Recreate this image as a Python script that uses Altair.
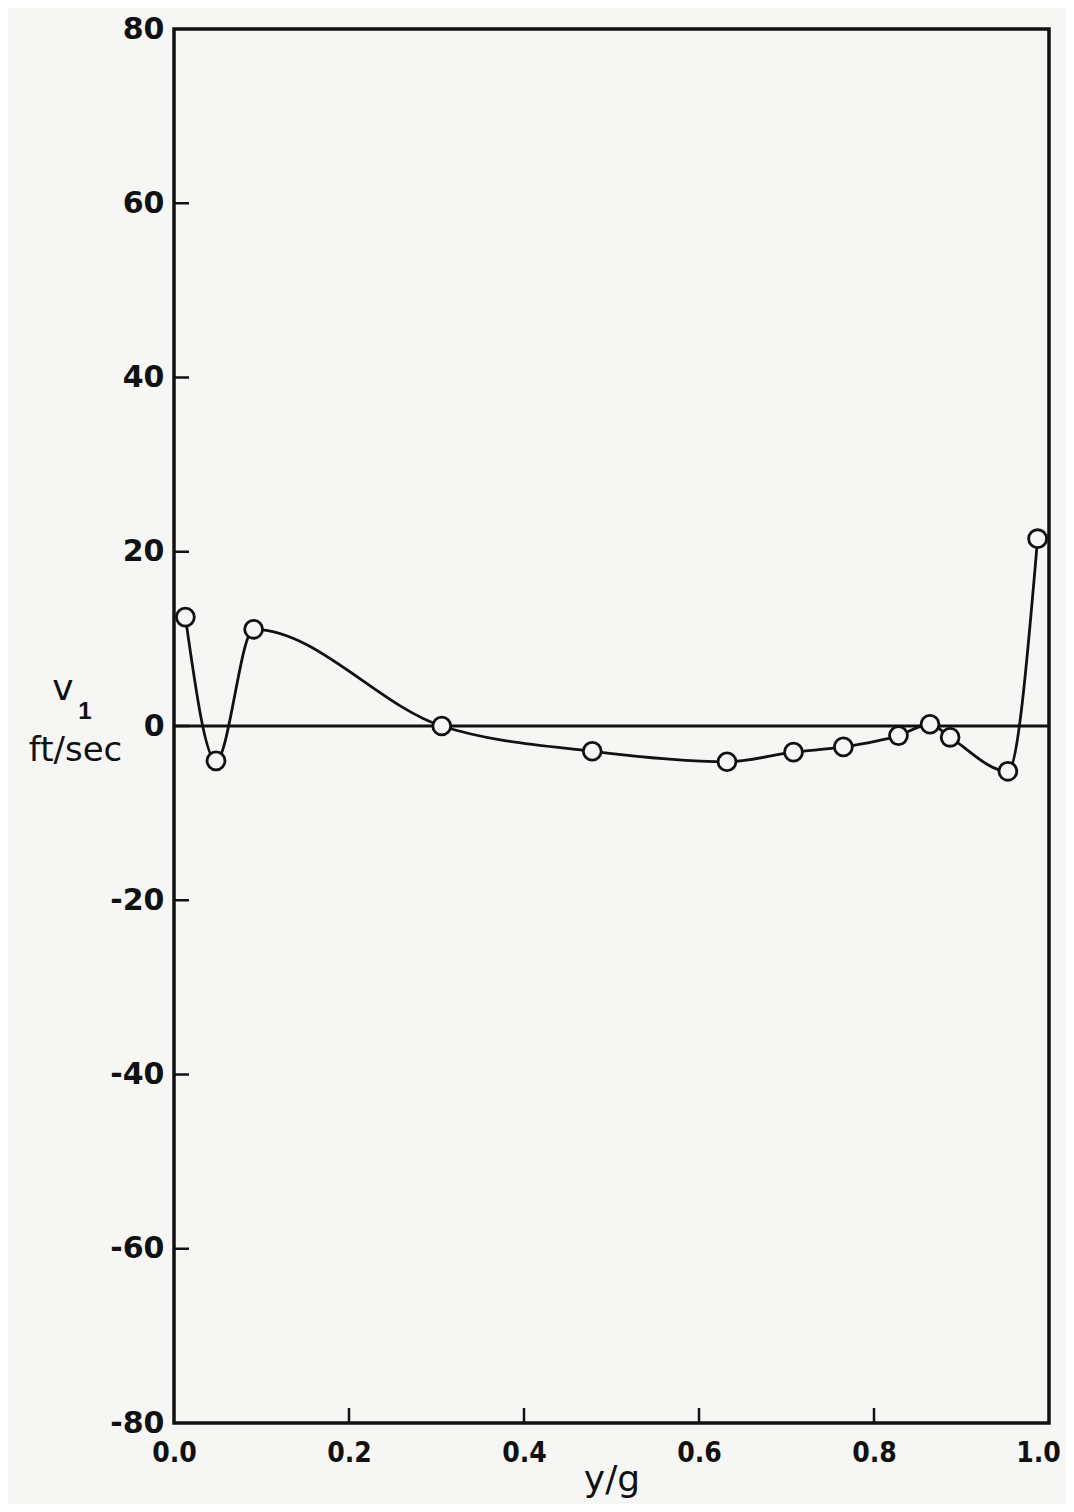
import altair as alt
import pandas as pd

# data
yg = [0.013, 0.048, 0.091, 0.306, 0.478, 0.632, 0.708, 0.765, 0.828, 0.864, 0.887, 0.953, 0.987]
v1 = [12.5, -4.0, 11.1, 0.0, -2.9, -4.1, -3.0, -2.4, -1.1, 0.2, -1.3, -5.2, 21.5]
x_ticks = [0.0, 0.2, 0.4, 0.6, 0.8, 1.0]
y_ticks = [-80, -60, -40, -20, 0, 20, 40, 60, 80]
x_inner_ticks = [0.2, 0.4, 0.6, 0.8]
y_inner_ticks = [-60, -40, -20, 0, 20, 40, 60]
y_title_main = ["v"]
y_title_sub = ["1"]

W, H = 875, 1394
INK = "#111111"
BG = "#f6f6f4"

df = pd.DataFrame({"yg": yg, "v1": v1})
xt = pd.DataFrame({"t": x_inner_ticks})
yt = pd.DataFrame({"t": y_inner_ticks})
zero = pd.DataFrame({"z": [0]})

xscale = alt.Scale(domain=[0, 1], nice=False, zero=False)
yscale = alt.Scale(domain=[-80, 80], nice=False, zero=False)

xaxis = alt.Axis(
    values=x_ticks, labelExpr="format(datum.value, '.1f')", ticks=False, grid=False,
    domain=False, labelFont="DejaVu Sans Condensed", labelFontWeight="bold",
    labelFontSize=28, labelColor=INK, labelPadding=16, labelFlush=False,
    labelOffset={"condition": {"test": "datum.value == 1", "value": -11}, "value": 0},
    title="y/g", titleFont="DejaVu Sans", titleFontSize=36, titleFontWeight="normal",
    titleColor=INK, titleBaseline="alphabetic", titleY=67,
)
yaxis = alt.Axis(
    values=y_ticks, labelExpr="'' + datum.value", ticks=False, grid=False,
    domain=False, labelFont="DejaVu Sans", labelFontWeight="bold",
    labelFontSize=30, labelColor=INK, labelPadding=10, labelFlush=False,
    title="ft/sec", titleFont="DejaVu Sans", titleFontSize=34,
    titleFontWeight="normal", titleColor=INK, titleAngle=0, titleAlign="center",
    titleBaseline="alphabetic", titleX=-99, titleY=731,
)

zero_line = alt.Chart(zero).mark_rule(color=INK, strokeWidth=3).encode(
    y=alt.Y("z:Q", scale=yscale, axis=yaxis)
)

xtick_marks = alt.Chart(xt).mark_rule(color=INK, strokeWidth=2.5).encode(
    x=alt.X("t:Q", scale=xscale, axis=xaxis),
    y=alt.value(H), y2=alt.value(H - 15),
)
ytick_marks = alt.Chart(yt).mark_rule(color=INK, strokeWidth=2.5).encode(
    y=alt.Y("t:Q", scale=yscale),
    x=alt.value(0), x2=alt.value(15),
)

curve = alt.Chart(df).mark_line(color=INK, strokeWidth=2.8, interpolate="monotone").encode(
    x=alt.X("yg:Q", scale=xscale),
    y=alt.Y("v1:Q", scale=yscale),
)
pts = alt.Chart(df).mark_point(
    shape="circle", size=320, filled=True, fill=BG, stroke=INK,
    strokeWidth=2.8, opacity=1,
).encode(
    x=alt.X("yg:Q", scale=xscale),
    y=alt.Y("v1:Q", scale=yscale),
)

v_text = alt.Chart(pd.DataFrame({"t": y_title_main})).mark_text(
    font="DejaVu Sans", fontSize=36, color=INK, align="center", baseline="alphabetic"
).encode(text="t:N", x=alt.value(-111), y=alt.value(671))
sub_text = alt.Chart(pd.DataFrame({"t": y_title_sub})).mark_text(
    font="Liberation Sans", fontSize=24, fontWeight="bold", color=INK,
    align="center", baseline="alphabetic"
).encode(text="t:N", x=alt.value(-89), y=alt.value(690))

chart = alt.layer(zero_line, xtick_marks, ytick_marks, curve, pts, v_text, sub_text).properties(
    width=W, height=H,
    background=BG,
    autosize=alt.AutoSizeParams(type="none"),
    padding={"left": 166, "top": 21, "right": 17, "bottom": 81},
).configure_view(
    stroke=INK, strokeWidth=3.5, fill=BG
)

chart.save("out.html", embed_options={"renderer": "svg", "actions": False})
